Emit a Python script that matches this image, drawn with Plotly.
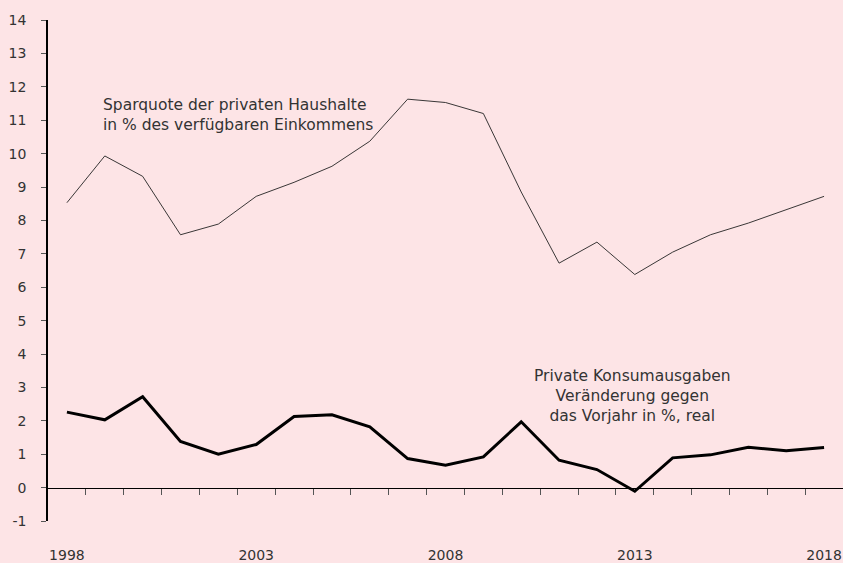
import plotly.graph_objects as go

years = list(range(1998, 2019))
sparquote = [8.53, 9.93, 9.32, 7.57, 7.89, 8.72, 9.14, 9.62, 10.37, 11.63, 11.53,
             11.2, 8.85, 6.72, 7.35, 6.38, 7.05, 7.57, 7.92, 8.33, 8.72]
konsum = [2.26, 2.03, 2.72, 1.38, 1.0, 1.29, 2.13, 2.18, 1.82, 0.87, 0.67,
          0.92, 1.97, 0.82, 0.54, -0.11, 0.89, 0.98, 1.21, 1.1, 1.2]
label_years = [1998, 2003, 2008, 2013, 2018]
y_ticks = list(range(-1, 15))
y_ticktext = [str(v) for v in y_ticks]
boundaries = [y + 0.5 for y in range(1998, 2018)]

bg = "#FDE4E6"
font_family = "'DejaVu Sans', sans-serif"
txt = "#333333"

fig = go.Figure()
fig.add_trace(go.Scatter(x=years, y=sparquote, mode="lines",
                         line=dict(color="#222222", width=0.9), showlegend=False, hoverinfo="skip"))
fig.add_trace(go.Scatter(x=years, y=konsum, mode="lines",
                         line=dict(color="#000000", width=3), showlegend=False, hoverinfo="skip"))
# invisible trace on the zero-line axis
fig.add_trace(go.Scatter(x=[years[0]], y=[0], xaxis="x2", mode="markers",
                         marker=dict(opacity=0), showlegend=False, hoverinfo="skip"))

fig.update_layout(
    width=843, height=563,
    paper_bgcolor=bg, plot_bgcolor=bg,
    margin=dict(l=48, r=0, t=20, b=40),
    font=dict(family=font_family, size=14, color=txt),
    xaxis=dict(range=[1997.5, 2018.5], tickmode="array", tickvals=label_years,
               ticktext=[str(v) for v in label_years], showgrid=False, zeroline=False,
               showline=False, ticks="outside", ticklen=21, tickcolor="rgba(0,0,0,0)",
               tickfont=dict(size=14, color=txt)),
    xaxis2=dict(range=[1997.5, 2018.5], overlaying="x", anchor="free", position=1/15,
                tickmode="array", tickvals=boundaries, showticklabels=False,
                ticks="outside", ticklen=6, tickcolor="#555555", tickwidth=1,
                showline=True, linecolor="#000000", linewidth=1, showgrid=False, zeroline=False),
    yaxis=dict(range=[-1, 14], tickmode="array", tickvals=y_ticks, ticktext=y_ticktext,
               showgrid=False, zeroline=False, showline=True, linecolor="#000000", linewidth=1.5,
               ticks="outside", ticklen=5, tickcolor="#555555",
               tickfont=dict(size=14, color=txt), ticklabelstandoff=12),
    annotations=[
        dict(x=1998.9, y=11.15, xref="x", yref="y", xanchor="left", yanchor="middle",
             text="Sparquote der privaten Haushalte<br>in % des verfügbaren Einkommens",
             showarrow=False, align="left", font=dict(size=15.5, color=txt)),
        dict(x=2012.93, y=2.75, xref="x", yref="y", xanchor="center", yanchor="middle",
             text="Private Konsumausgaben<br>Veränderung gegen<br>das Vorjahr in %, real",
             showarrow=False, align="center", font=dict(size=15.5, color=txt)),
    ],
)

fig.write_html("out.html", config={"displayModeBar": False},
               post_script="document.body.style.margin='0';")
